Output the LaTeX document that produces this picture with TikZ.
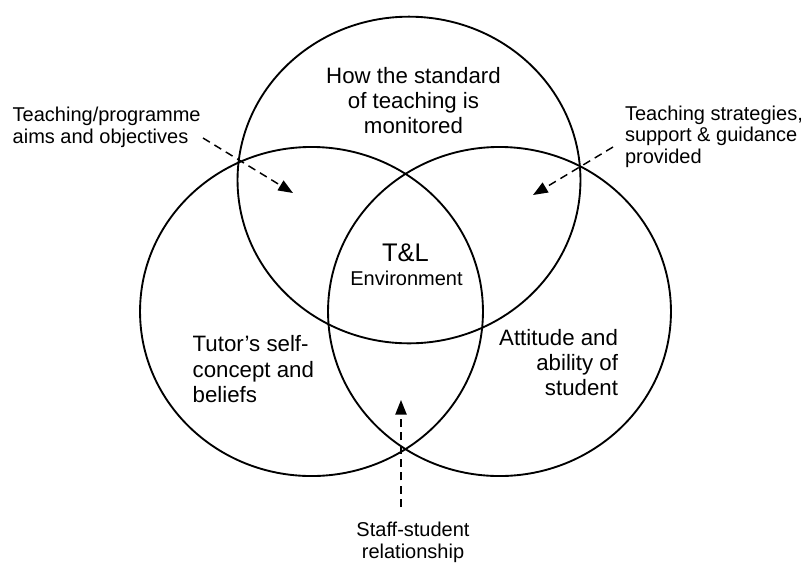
\documentclass[tikz,border=0pt]{standalone}
\usepackage{fontspec}
\setmainfont{Liberation Sans}
\usetikzlibrary{arrows.meta}
\tikzset{
  ring/.style={draw=black, line width=1.4pt},
  lbl/.style={inner sep=0pt, outer sep=0pt, font=\fontsize{16.7}{18.9}\selectfont},
  sml/.style={inner sep=0pt, outer sep=0pt, font=\fontsize{15}{16.3}\selectfont},
  flow/.style={draw=black, line width=1.1pt, dash pattern=on 6pt off 4pt,
    -{Triangle[length=11pt,width=8.5pt]}}
}
\begin{document}
\begin{tikzpicture}[x=0.75pt,y=-0.75pt]
\useasboundingbox (0,0) rectangle (804,562);
% three circles
\draw[ring] (409,180) ellipse [x radius=128.6pt, y radius=122.5pt];
\draw[ring] (311.5,311.5) ellipse [x radius=128.6pt, y radius=123.4pt];
\draw[ring] (499.5,311.5) ellipse [x radius=128.6pt, y radius=123.4pt];
% texts
\node[lbl, anchor=north, align=center] (top) at (413.5,67) {How the standard\\of teaching is\\monitored};
\node[inner sep=0pt, anchor=north, font=\fontsize{19.1}{21}\selectfont] (tl) at (405.5,243.3) {T\&L};
\node[inner sep=0pt, anchor=base, font=\fontsize{15}{17}\selectfont] (env) at (406.5,285) {Environment};
\node[lbl, anchor=north west, align=left] (tutor) at (192.7,335.7) {Tutor’s self-\\concept and\\beliefs};
\node[lbl, anchor=north east, align=right] (att) at (618,329) {Attitude and\\ability of\\student};
\node[sml, anchor=north west, align=left] (aims) at (12.7,107.4) {Teaching/programme\\aims and objectives};
\node[sml, anchor=north west, align=left] (strat) at (625,105.7) {Teaching strategies,\\support \& guidance\\provided};
\node[sml, anchor=north, align=center] (rel) at (413,522.4) {Staff-student\\relationship};
% arrow ends
\coordinate (a1) at (203,138);
\coordinate (t1) at (293,193);
\coordinate (a2) at (613,147);
\coordinate (t2) at (533,195);
\coordinate (a3) at (401,507);
\coordinate (t3) at (401,400);
\draw[flow] (a1) -- (t1);
\draw[flow] (a2) -- (t2);
\draw[flow] (a3) -- (t3);
\end{tikzpicture}
\end{document}
